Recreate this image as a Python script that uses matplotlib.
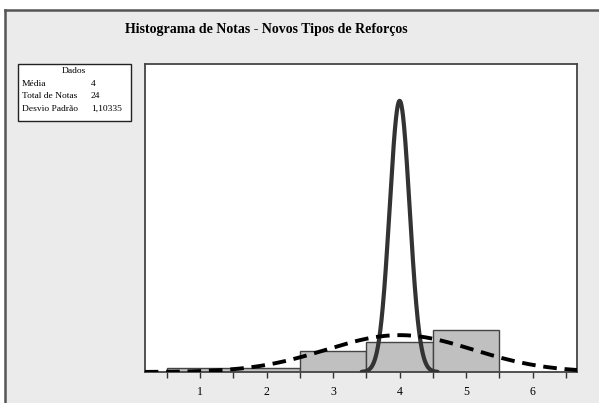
import numpy as np
import matplotlib.pyplot as plt
from matplotlib.patches import Rectangle
from matplotlib.lines import Line2D

plt.rcParams['font.family'] = ['Liberation Serif', 'DejaVu Serif']

# dados do histograma
notas = [1, 2, 3, 4, 5]
contagens = [1, 1, 5, 7, 10]
media = 4
total = 24
desvio = 1.10335
# curva estreita (estimada da figura)
media_estreita = 4
desvio_estreito = 0.15

W, H = 599, 403
fig = plt.figure(figsize=(W / 100, H / 100), dpi=100)
fig.patch.set_facecolor('white')

def fx(px):
    return px / W

def fy(py):
    return 1 - py / H

# fundo cinza com moldura
fig.patches.append(Rectangle((fx(5), 0), 1, fy(10), transform=fig.transFigure,
                             facecolor='#ebebeb', edgecolor='none', zorder=-1))
fig.lines.append(Line2D([fx(5), fx(5)], [0, fy(10)], transform=fig.transFigure,
                        color='#555555', lw=1.8))
fig.lines.append(Line2D([fx(5), 1], [fy(10), fy(10)], transform=fig.transFigure,
                        color='#555555', lw=1.8))

fig.text(fx(266), fy(29), 'Histograma de Notas - Novos Tipos de Reforços',
         ha='center', va='center', fontsize=10, fontweight='bold')

# caixa de dados
fig.patches.append(Rectangle((fx(18), fy(121)), fx(131) - fx(18), fy(64) - fy(121),
                             transform=fig.transFigure, facecolor='white',
                             edgecolor='#222222', lw=1, zorder=2))
fig.text(fx(74), fy(71), 'Dados', ha='center', va='center', fontsize=6.8)
rows = [('Média', str(media)), ('Total de Notas', str(total)),
        ('Desvio Padrão', f'{desvio:.5f}'.replace('.', ','))]
for i, (k, v) in enumerate(rows):
    y = 84 + i * 12.5
    fig.text(fx(22), fy(y), k, ha='left', va='center', fontsize=6.8)
    fig.text(fx(91), fy(y), v, ha='left', va='center', fontsize=6.8)

ax = fig.add_axes([fx(145), fy(372), fx(577) - fx(145), fy(64) - fy(372)])
ax.set_zorder(5)
ax.set_facecolor('white')

ax.bar(notas, contagens, width=1.0, color='#c0c0c0', edgecolor='#444444', lw=1, zorder=2)

xs = np.linspace(0.17, 6.67, 400)
ys = total / (desvio * np.sqrt(2 * np.pi)) * np.exp(-0.5 * ((xs - media) / desvio) ** 2)
ax.plot(xs, ys, color='black', lw=2.8, ls=(0, (3.5, 2)), zorder=4)

xn = np.linspace(3.43, 4.57, 300)
yn = total / (desvio_estreito * np.sqrt(2 * np.pi)) * np.exp(-0.5 * ((xn - media_estreita) / desvio_estreito) ** 2)
ax.plot(xn, yn, color='#333333', lw=3.0, zorder=3, solid_capstyle='round')

ax.set_xlim(0.174, 6.665)
ax.set_ylim(0, 72.5)
ax.set_xticks(np.arange(0.5, 7, 0.5))
ax.set_xticklabels(['' if t % 1 else str(int(t)) for t in np.arange(0.5, 7, 0.5)])
ax.tick_params(axis='x', direction='out', length=4, width=1, color='#333333',
               labelsize=8.5, pad=6)
ax.set_yticks([])
for s in ax.spines.values():
    s.set_color('#444444')
    s.set_linewidth(1.3)

fig.savefig('out.png', dpi=100)
